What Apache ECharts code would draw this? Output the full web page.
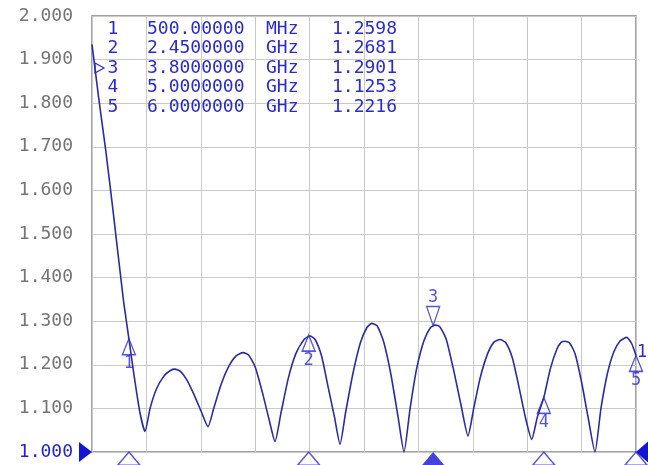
<!DOCTYPE html>
<html>
<head>
<meta charset="utf-8">
<script src="https://cdn.jsdelivr.net/npm/echarts@6/dist/echarts.min.js"></script>
<style>
  html, body { margin: 0; padding: 0; background: #fff; }
  #chart { width: 648px; height: 465px; }
</style>
</head>
<body>
<div id="chart"></div>
<script>
// trace
const freqGHz = [
  0.10, 0.18, 0.25, 0.33, 0.44, 0.50, 0.56, 0.62, 0.675,
  0.73, 0.80, 0.88, 0.95, 1.00, 1.06, 1.13, 1.21, 1.29, 1.358,
  1.42, 1.50, 1.58, 1.66, 1.738, 1.80, 1.87, 1.95, 2.02, 2.085,
  2.15, 2.23, 2.31, 2.40, 2.464, 2.52, 2.59, 2.66, 2.73, 2.79,
  2.85, 2.93, 3.01, 3.08, 3.134, 3.19, 3.26, 3.34, 3.42, 3.484,
  3.55, 3.62, 3.70, 3.77, 3.82, 3.87, 3.94, 4.02, 4.10, 4.178,
  4.24, 4.31, 4.39, 4.46, 4.525, 4.59, 4.66, 4.73, 4.80, 4.869,
  4.93, 5.00, 5.07, 5.14, 5.19, 5.23, 5.28, 5.34, 5.41, 5.48, 5.555,
  5.62, 5.69, 5.76, 5.83, 5.899, 5.95, 6.00
];
const vswr = [
  1.935, 1.80, 1.69, 1.55, 1.35, 1.26, 1.17, 1.09, 1.047,
  1.10, 1.145, 1.174, 1.187, 1.19, 1.185, 1.165, 1.13, 1.09, 1.058,
  1.10, 1.155, 1.195, 1.22, 1.228, 1.222, 1.195, 1.135, 1.075, 1.024,
  1.09, 1.17, 1.225, 1.258, 1.266, 1.258, 1.22, 1.15, 1.08, 1.018,
  1.09, 1.18, 1.25, 1.285, 1.295, 1.29, 1.255, 1.18, 1.08, 1.000,
  1.10, 1.19, 1.255, 1.285, 1.291, 1.288, 1.26, 1.19, 1.11, 1.037,
  1.10, 1.17, 1.225, 1.252, 1.258, 1.25, 1.215, 1.15, 1.08, 1.029,
  1.08, 1.125, 1.19, 1.235, 1.252, 1.254, 1.25, 1.225, 1.16, 1.08, 1.000,
  1.10, 1.18, 1.23, 1.255, 1.263, 1.25, 1.2216
];

// markers
const markerNo = ['1', '2', '3', '4', '5'];
const markerFreq = [0.5, 2.45, 3.8, 5.0, 6.0];
const markerVswr = [1.2598, 1.2681, 1.2901, 1.1253, 1.2216];
const markerStim = ['500.00000', '2.4500000', '3.8000000', '5.0000000', '6.0000000'];
const markerUnit = ['MHz', 'GHz', 'GHz', 'GHz', 'GHz'];
const markerText = ['1.2598', '1.2681', '1.2901', '1.1253', '1.2216'];
const activeMarker = 2;

const startGHz = 0.1, stopGHz = 6.0;
const refLevel = 1.0, topLevel = 2.0, perDiv = 0.1;

const TRACE = '#2a2aa5';
const BLUE = '#2b2bcc';
const MONO = 'DejaVu Sans Mono';

const chart = echarts.init(document.getElementById('chart'));

const markerPts = [], activePts = [], stimPts = [], stimActive = [];
markerFreq.forEach(function (f, i) {
  if (i === activeMarker) {
    activePts.push({ value: [f, markerVswr[i]], name: markerNo[i] });
    stimActive.push([f, refLevel]);
  } else {
    markerPts.push({ value: [f, markerVswr[i]], name: markerNo[i] });
    stimPts.push([f, refLevel]);
  }
});

const option = {
  animation: false,
  backgroundColor: '#fff',
  grid: {
    left: 92, right: 12, top: 16, bottom: 13,
    show: true,
    borderColor: '#858585',
    borderWidth: 1.5
  },
  xAxis: [
    {
      type: 'value', min: startGHz, max: stopGHz,
      axisLine: { show: false }, axisTick: { show: false },
      axisLabel: { show: false }, splitLine: { show: false }
    },
    {
      // 10 divisions for the graticule
      type: 'value', min: 0, max: 10, interval: 1, position: 'bottom',
      axisLine: { show: false }, axisTick: { show: false },
      axisLabel: { show: false },
      splitLine: { show: true, lineStyle: { color: '#c9c9c9', width: 1 } }
    }
  ],
  yAxis: {
    type: 'value', min: refLevel, max: topLevel, interval: perDiv,
    axisLine: { show: false }, axisTick: { show: false },
    axisLabel: {
      margin: 19,
      fontFamily: MONO,
      fontSize: 18,
      formatter: function (v) { return v.toFixed(3); },
      color: function (v) { return Math.abs(v - refLevel) < 1e-6 ? '#1f1fd8' : '#747474'; }
    },
    splitLine: { show: true, lineStyle: { color: '#c9c9c9', width: 1 } }
  },
  series: [
    {
      type: 'line',
      data: freqGHz.map(function (f, i) { return [f, vswr[i]]; }),
      showSymbol: false,
      smooth: 0.2,
      lineStyle: { color: TRACE, width: 1.6 },
      z: 3
    },
    {
      type: 'scatter',
      data: markerPts,
      clip: false,
      symbol: 'triangle',
      symbolSize: [13, 16],
      symbolOffset: [0, '50%'],
      itemStyle: { color: 'rgba(0,0,0,0)', borderColor: BLUE, borderWidth: 1.4 },
      label: {
        show: true, position: 'bottom', distance: 0,
        formatter: '{b}', color: BLUE, fontFamily: MONO, fontSize: 17
      },
      z: 4
    },
    {
      type: 'scatter',
      data: activePts,
      clip: false,
      symbol: 'path://M0 0L2 0L1 2Z',
      symbolSize: [13, 19],
      symbolOffset: [0, '-50%'],
      itemStyle: { color: 'rgba(0,0,0,0)', borderColor: BLUE, borderWidth: 1.4 },
      label: {
        show: true, position: 'top', distance: 0,
        formatter: '{b}', color: BLUE, fontFamily: MONO, fontSize: 17
      },
      z: 4
    },
    {
      // stimulus arrows under the graticule
      type: 'scatter',
      data: stimPts,
      clip: false,
      symbol: 'triangle',
      symbolSize: [22, 13],
      symbolOffset: [0, '50%'],
      itemStyle: { color: '#fff', borderColor: BLUE, borderWidth: 1.3 },
      z: 5
    },
    {
      type: 'scatter',
      data: stimActive,
      clip: false,
      symbol: 'triangle',
      symbolSize: [22, 13],
      symbolOffset: [0, '50%'],
      itemStyle: { color: '#1414d4' },
      z: 5
    }
  ]
};

chart.setOption(option);

// marker table and screen indicators
const graphics = [];
const rowY0 = 29, rowStep = 19.5;
markerNo.forEach(function (n, i) {
  const y = rowY0 + i * rowStep;
  const cols = [
    { t: n, x: 113, a: 'center' },
    { t: markerStim[i], x: 147, a: 'left' },
    { t: markerUnit[i], x: 266, a: 'left' },
    { t: markerText[i], x: 332, a: 'left' }
  ];
  cols.forEach(function (c) {
    graphics.push({
      type: 'text', z: 10,
      style: {
        text: c.t, x: c.x, y: y,
        align: c.a, verticalAlign: 'middle',
        textAlign: c.a, textVerticalAlign: 'middle',
        fill: BLUE, font: '18px "' + MONO + '"'
      }
    });
  });
});
const ay = rowY0 + activeMarker * rowStep;
graphics.push({
  type: 'polygon', z: 10,
  shape: { points: [[95, ay - 5], [104, ay], [95, ay + 5]] },
  style: { fill: 'none', stroke: BLUE, lineWidth: 1.2 }
});

const pRef = chart.convertToPixel({ xAxisIndex: 0, yAxisIndex: 0 }, [startGHz, refLevel]);
const pEnd = chart.convertToPixel({ xAxisIndex: 0, yAxisIndex: 0 }, [stopGHz, refLevel]);
graphics.push({
  type: 'polygon', z: 10,
  shape: { points: [[pRef[0], pRef[1]], [pRef[0] - 13, pRef[1] - 10], [pRef[0] - 13, pRef[1] + 10]] },
  style: { fill: '#1414d4' }
});
graphics.push({
  type: 'polygon', z: 10,
  shape: { points: [[pEnd[0], pEnd[1]], [pEnd[0] + 16, pEnd[1] - 14], [pEnd[0] + 16, pEnd[1] + 14]] },
  style: { fill: '#1414d4' }
});
const p5 = chart.convertToPixel({ xAxisIndex: 0, yAxisIndex: 0 }, [stopGHz, markerVswr[4]]);
graphics.push({
  type: 'text', z: 10,
  style: {
    text: '1', x: p5[0] + 1, y: p5[1] - 3,
    align: 'left', verticalAlign: 'middle',
    textAlign: 'left', textVerticalAlign: 'middle',
    fill: BLUE, font: '17px "' + MONO + '"'
  }
});

chart.setOption({ graphic: graphics });
</script>
</body>
</html>
